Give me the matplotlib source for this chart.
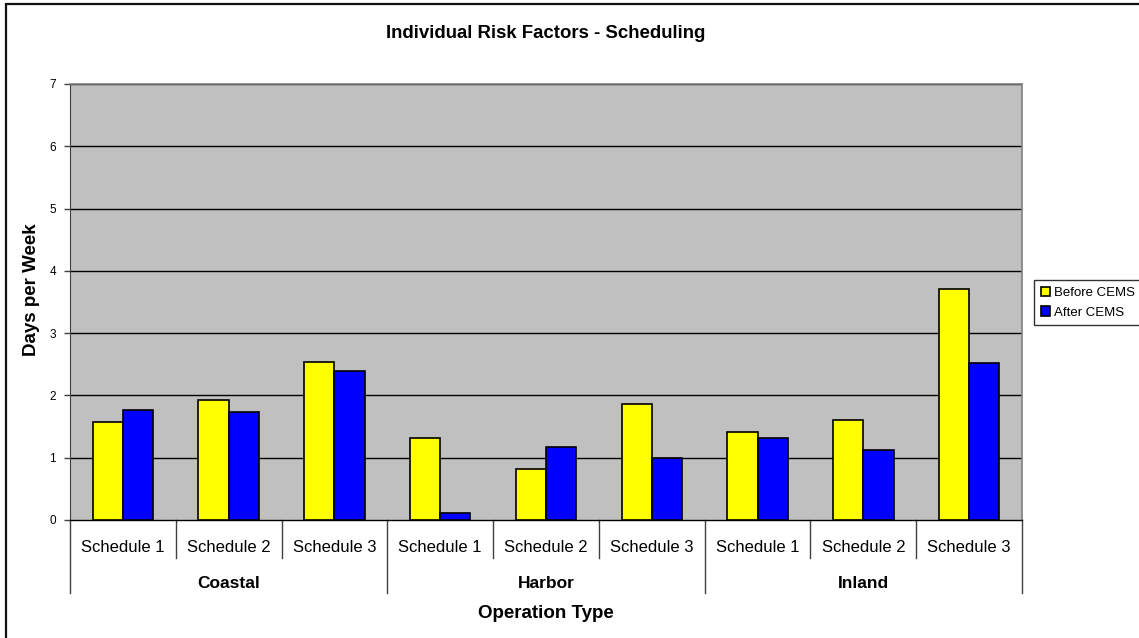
import matplotlib
matplotlib.use("Agg")
import matplotlib.pyplot as plt
import matplotlib.transforms as mtransforms
from matplotlib.patches import Rectangle
import numpy as np

plt.rcParams['font.family'] = ['Liberation Sans', 'DejaVu Sans']

groups = ["Coastal", "Harbor", "Inland"]
schedules = ["Schedule 1", "Schedule 2", "Schedule 3"]
before_cems = [1.57, 1.92, 2.53, 1.32, 0.82, 1.86, 1.42, 1.61, 3.71]
after_cems = [1.76, 1.73, 2.40, 0.11, 1.18, 0.99, 1.32, 1.13, 2.52]
y_ticks = [0, 1, 2, 3, 4, 5, 6, 7]

W, H = 1139, 638
fig = plt.figure(figsize=(W / 100, H / 100), dpi=100)
fig.patch.set_facecolor('white')

# outer chart frame (top and left edges visible)
fig.add_artist(Rectangle((6 / W, -0.2), 1.2, 1.2 - 4 / H,
                         transform=fig.transFigure, fill=False,
                         edgecolor='#111111', linewidth=1.6))

ax = fig.add_axes([70 / W, 1 - 520 / H, (1022 - 70) / W, (520 - 84) / H])
ax.set_facecolor('#C0C0C0')

n = len(before_cems)
x = np.arange(n)
w = 0.2857
ax.bar(x - w / 2, before_cems, w, color='#FFFF00', edgecolor='black',
       linewidth=1.2, label='Before CEMS', zorder=3)
ax.bar(x + w / 2, after_cems, w, color='#0000FF', edgecolor='black',
       linewidth=1.2, label='After CEMS', zorder=3)

ax.set_xlim(-0.5, n - 0.5)
ax.set_ylim(0, 7)
ax.set_yticks(y_ticks)
ax.set_yticklabels([str(t) for t in y_ticks], fontsize=8.5)
ax.tick_params(axis='y', length=4, width=1, color='#404040', pad=6)
ax.set_xticks([])
for yv in y_ticks[1:]:
    ax.axhline(yv, color='black', linewidth=1.0, zorder=1)

for side in ['top', 'right']:
    ax.spines[side].set_color('#808080')
    ax.spines[side].set_linewidth(1.2)
ax.spines['left'].set_color('#404040')
ax.spines['bottom'].set_color('black')
ax.spines['bottom'].set_linewidth(1.0)

trans = mtransforms.blended_transform_factory(ax.transData, ax.transAxes)
sep_col = '#404040'
# schedule separators and labels
for i in range(n + 1):
    xb = i - 0.5
    bottom = -0.167 if i % 3 == 0 else -0.087
    ax.plot([xb, xb], [0, bottom], transform=trans, color=sep_col,
            linewidth=1.0, clip_on=False)
for i in range(n):
    ax.text(i, -0.062, schedules[i % 3], transform=trans, ha='center',
            va='center', fontsize=12)
for g, name in enumerate(groups):
    ax.text(3 * g + 1, -0.145, name, transform=trans, ha='center',
            va='center', fontsize=12.5, fontweight='bold')

ax.text(0.5, -0.214, 'Operation Type', transform=ax.transAxes, ha='center',
        va='center', fontsize=13.5, fontweight='bold')
fig.text(32 / W, 1 - 290 / H, 'Days per Week', rotation=90, ha='center',
         va='center', fontsize=13.5, fontweight='bold')
fig.text(546 / W, 1 - 33 / H, 'Individual Risk Factors - Scheduling',
         ha='center', va='center', fontsize=13.4, fontweight='bold')

leg = fig.legend(loc='upper left', bbox_to_anchor=(1034 / W, 1 - 280 / H),
                 bbox_transform=fig.transFigure, fontsize=9.5,
                 frameon=True, fancybox=False, edgecolor='black',
                 handlelength=0.75, handleheight=0.75, handletextpad=0.25,
                 borderpad=0.5, labelspacing=0.55, borderaxespad=0)
leg.get_frame().set_linewidth(1.0)

fig.savefig('out.png', dpi=100, facecolor='white')
